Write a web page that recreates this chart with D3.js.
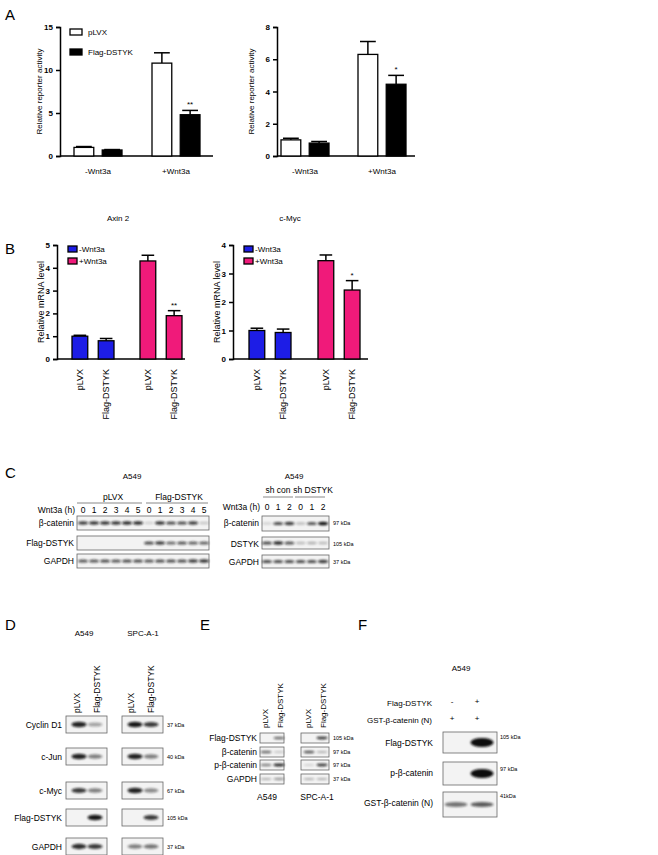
<!DOCTYPE html>
<html><head><meta charset="utf-8">
<script src="https://cdn.jsdelivr.net/npm/d3@7"></script>
<style>body{margin:0;background:#fff}text{font-family:"Liberation Sans",Arial,sans-serif}</style>
</head><body>
<svg id="fig" width="658" height="855"></svg>
<script>
// bar chart data
const groupsA = ["-Wnt3a", "+Wnt3a"];
const seriesA = ["pLVX", "Flag-DSTYK"];
const a1Values = [[1.0, 0.7], [10.8, 4.8]];
const a1Errors = [[1.1, 0.75], [12.0, 5.3]];
const a1Stars = [["", ""], ["", "**"]];
const a2Values = [[1.0, 0.8], [6.3, 4.45]];
const a2Errors = [[1.1, 0.9], [7.1, 5.0]];
const a2Stars = [["", ""], ["", "*"]];
const seriesB = ["-Wnt3a", "+Wnt3a"];
const barLabelsB = ["pLVX", "Flag-DSTYK"];
const axinValues = [[1.0, 0.8], [4.3, 1.9]];
const axinErrors = [[1.04, 0.9], [4.55, 2.12]];
const axinStars = [["", ""], ["", "**"]];
const mycValues = [[1.0, 0.93], [3.45, 2.42]];
const mycErrors = [[1.08, 1.05], [3.65, 2.75]];
const mycStars = [["", ""], ["", "*"]];

// blot band intensities (0..1) per lane
const c1Lanes = ["0","1","2","3","4","5","0","1","2","3","4","5"];
const c1Rows = ["β-catenin", "Flag-DSTYK", "GAPDH"];
const c1Bands = [
  [0.8,0.85,0.85,0.85,0.9,0.9, 0.15,0.85,0.75,0.75,0.8,0.2],
  [0,0,0,0,0,0, 0.75,0.8,0.6,0.7,0.65,0.65],
  [0.7,0.7,0.75,0.7,0.75,0.75, 0.7,0.75,0.75,0.75,0.8,0.85]];
const c2Lanes = ["0","1","2","0","1","2"];
const c2Rows = ["β-catenin", "DSTYK", "GAPDH"];
const c2Kda = ["97 kDa", "105 kDa", "37 kDa"];
const c2Bands = [
  [0.15,0.75,0.8, 0.25,0.7,1.0],
  [0.75,0.9,0.7, 0.25,0.3,0.25],
  [0.75,0.75,0.75,0.75,0.75,0.8]];
const dRows = ["Cyclin D1", "c-Jun", "c-Myc", "Flag-DSTYK", "GAPDH"];
const dKda = ["37 kDa", "40 kDa", "67 kDa", "105 kDa", "37 kDa"];
const dBandsA549 = [[0.9,0.35],[0.9,0.5],[0.8,0.5],[0,0.95],[0.85,0.8]];
const dBandsSPC = [[0.95,0.8],[0.9,0.5],[0.9,0.45],[0,0.8],[0.5,0.55]];
const eRows = ["Flag-DSTYK", "β-catenin", "p-β-catenin", "GAPDH"];
const eKda = ["105 kDa", "97 kDa", "97 kDa", "37 kDa"];
const eBandsA549 = [[0,0.6],[0.6,0.2],[0.5,0.9],[0.3,0.4]];
const eBandsSPC = [[0,0.8],[0.7,0.3],[0.15,0.8],[0.3,0.3]];
const fRows = ["Flag-DSTYK", "p-β-catenin", "GST-β-catenin (N)"];
const fKda = ["105 kDa", "97 kDa", "41kDa"];
const fBands = [[0,1.0],[0,1.0],[0.55,0.65]];
const fConds = [["Flag-DSTYK", "-", "+"], ["GST-β-catenin (N)", "+", "+"]];

const svg = d3.select("#fig");
const defs = svg.append("defs");
defs.append("filter").attr("id","blur").attr("x","-50%").attr("y","-100%").attr("width","200%").attr("height","300%")
  .append("feGaussianBlur").attr("stdDeviation", 0.9);

function txt(x, y, s, size, anchor, weight) {
  return svg.append("text").attr("x", x).attr("y", y).attr("font-size", size || 9)
    .attr("text-anchor", anchor || "start").attr("font-weight", weight || "normal").text(s);
}

// panel letters
[["A",5,20],["B",5,254],["C",5,478],["D",5,630],["E",200,630],["F",358,630]]
  .forEach(d => txt(d[1], d[2], d[0], 15));

function barChart(c) {
  const g = svg.append("g");
  const y = d3.scaleLinear().domain([0, c.max]).range([c.y0, c.y1]);
  const xg = d3.scalePoint().domain(c.groups).range(c.centers);
  const xi = d3.scaleBand().domain(c.series).range([-c.half, c.half]).paddingInner(c.pad);
  g.append("g").attr("transform", `translate(${c.x0},0)`)
    .call(d3.axisLeft(y).ticks(c.ticks).tickSize(4).tickFormat(d3.format("d")))
    .call(a => a.selectAll("text").attr("font-size", 8).attr("font-weight", "bold").attr("font-family", "Liberation Sans"))
    .call(a => a.selectAll("path,line").attr("stroke-width", 1.5));
  g.append("line").attr("x1", c.x0).attr("x2", c.x1).attr("y1", c.y0).attr("y2", c.y0)
    .attr("stroke", "#000").attr("stroke-width", 1.5);
  c.groups.forEach((gr, gi) => c.series.forEach((s, si) => {
    const x = xg(gr) + xi(s), w = xi.bandwidth(), v = c.values[gi][si], e = c.errors[gi][si];
    const col = c.colorBy === "group" ? c.colors[gi] : c.colors[si];
    const cx = x + w / 2;
    g.append("line").attr("x1", cx).attr("x2", cx).attr("y1", y(v)).attr("y2", y(e)).attr("stroke", "#000").attr("stroke-width", 1.5);
    g.append("line").attr("x1", cx - w * 0.4).attr("x2", cx + w * 0.4).attr("y1", y(e)).attr("y2", y(e)).attr("stroke", "#000").attr("stroke-width", 1.5);
    g.append("rect").attr("x", x).attr("y", y(v)).attr("width", w).attr("height", y(0) - y(v))
      .attr("fill", col).attr("stroke", "#000").attr("stroke-width", 1.3);
    if (c.stars[gi][si]) txt(cx, y(e) - 3, c.stars[gi][si], 8, "middle");
    if (c.barLabels) {
      svg.append("text").attr("transform", `translate(${cx + 3},${c.y0 + 10}) rotate(-90)`)
        .attr("font-size", 9).attr("text-anchor", "end").text(c.barLabels[si]);
    }
  }));
  if (c.groupLabels) c.groups.forEach(gr => txt(xg(gr), c.y0 + 18, gr, 8, "middle"));
  svg.append("text").attr("transform", `translate(${c.ylx},${(c.y0 + c.y1) / 2}) rotate(-90)`)
    .attr("font-size", c.ylSize).attr("text-anchor", "middle").text(c.ylabel);
  if (c.legend) c.legend.forEach((l, i) => {
    const ly = c.legY + i * c.legStep;
    g.append("rect").attr("x", c.legX).attr("y", ly).attr("width", c.legW).attr("height", 6)
      .attr("fill", c.colors[i]).attr("stroke", "#000").attr("stroke-width", 1.3);
    txt(c.legX + c.legW + (c.legW > 10 ? 6 : 2), ly + 6, l, 8);
  });
}

barChart({groups: groupsA, series: seriesA, values: a1Values, errors: a1Errors, stars: a1Stars,
  x0: 60, x1: 213, y0: 156, y1: 27, max: 15, ticks: 3, centers: [98, 176], half: 24, pad: 0.3,
  colors: ["#fff", "#000"], colorBy: "series", groupLabels: true,
  ylabel: "Relative reporter activity", ylx: 42, ylSize: 8,
  legend: seriesA, legX: 70, legY: 29, legStep: 20, legW: 12});
barChart({groups: groupsA, series: seriesA, values: a2Values, errors: a2Errors, stars: a2Stars,
  x0: 277, x1: 415, y0: 156, y1: 27, max: 8, ticks: 4, centers: [305, 382], half: 24, pad: 0.3,
  colors: ["#fff", "#000"], colorBy: "series", groupLabels: true,
  ylabel: "Relative reporter activity", ylx: 254, ylSize: 8});

txt(118, 221, "Axin 2", 8, "middle");
txt(290, 221, "c-Myc", 8, "middle");
barChart({groups: seriesB, series: barLabelsB, values: axinValues, errors: axinErrors, stars: axinStars,
  x0: 57, x1: 185, y0: 359, y1: 245, max: 5, ticks: 5, centers: [93, 161], half: 21, pad: 0.4,
  colors: ["#1d1de6", "#f01a7a"], colorBy: "group", barLabels: barLabelsB,
  ylabel: "Relative mRNA level", ylx: 44, ylSize: 9,
  legend: seriesB, legX: 68, legY: 246, legStep: 12, legW: 9});
barChart({groups: seriesB, series: barLabelsB, values: mycValues, errors: mycErrors, stars: mycStars,
  x0: 233, x1: 368, y0: 359, y1: 245, max: 4, ticks: 4, centers: [270, 339], half: 21, pad: 0.4,
  colors: ["#1d1de6", "#f01a7a"], colorBy: "group", barLabels: barLabelsB,
  ylabel: "Relative mRNA level", ylx: 220, ylSize: 9,
  legend: seriesB, legX: 244, legY: 246, legStep: 12, legW: 9});

// blot helper: box with blurred, flat bands
function blot(x, y, w, h, lanesX, intens, bw, bh) {
  svg.append("rect").attr("x", x).attr("y", y).attr("width", w).attr("height", h)
    .attr("fill", "#f3f3f3").attr("stroke", "#666").attr("stroke-width", 0.8);
  intens.forEach((v, i) => {
    if (v <= 0.02) return;
    svg.append("ellipse").attr("cx", lanesX[i]).attr("cy", y + h / 2).attr("rx", bw / 2).attr("ry", bh * (0.6 + 0.4 * v))
      .attr("fill", "#111").attr("opacity", v).attr("filter", "url(#blur)");
  });
}

// C left
const c1x = d3.scalePoint().domain(d3.range(12)).range([83, 204]);
txt(132, 479, "A549", 8, "middle");
txt(113, 500, "pLVX", 8.5, "middle"); txt(179, 500, "Flag-DSTYK", 8.5, "middle");
[[77,142],[146,208]].forEach(d => svg.append("line").attr("x1", d[0]).attr("x2", d[1]).attr("y1", 503).attr("y2", 503).attr("stroke", "#888"));
txt(75, 513, "Wnt3a (h)", 8.5, "end");
c1Lanes.forEach((l, i) => txt(c1x(i), 513, l, 8.5, "middle"));
const c1y = [516, 536, 554];
c1Rows.forEach((r, i) => {
  txt(74, c1y[i] + 10, r, 8.5, "end");
  blot(77, c1y[i], 132, 14, d3.range(12).map(c1x), c1Bands[i], 10, 1.8);
});
// C right
const c2x = d3.scalePoint().domain(d3.range(6)).range([267, 323]);
txt(294, 479, "A549", 8, "middle");
txt(278, 493, "sh con", 8.5, "middle"); txt(313, 493, "sh DSTYK", 8.5, "middle");
[[263,293],[295,325]].forEach(d => svg.append("line").attr("x1", d[0]).attr("x2", d[1]).attr("y1", 497).attr("y2", 497).attr("stroke", "#888"));
txt(260, 510, "Wnt3a (h)", 8.5, "end");
c2Lanes.forEach((l, i) => txt(c2x(i), 510, l, 8.5, "middle"));
const c2y = [516, 537, 555];
c2Rows.forEach((r, i) => {
  txt(259, c2y[i] + 10, r, 8.5, "end");
  blot(262, c2y[i], 67, [15, 12, 13][i], d3.range(6).map(c2x), c2Bands[i], 10, 1.8);
  txt(333, c2y[i] + 9, c2Kda[i], 5.5);
});

// D
txt(84, 636, "A549", 8, "middle"); txt(143, 636, "SPC-A-1", 8, "middle");
const dLanes = [[77, 97], [131, 151]];
dLanes.forEach(p => p.forEach((lx, i) => svg.append("text").attr("transform", `translate(${lx + 3},713) rotate(-90)`)
  .attr("font-size", 8.5).text(["pLVX", "Flag-DSTYK"][i])));
const dy = [716, 748, 782, 809, 838];
dRows.forEach((r, i) => {
  txt(62, dy[i] + 12, r, 8.5, "end");
  blot(66, dy[i], 41, 17, [79, 95], dBandsA549[i], 15, 2.8);
  blot(122, dy[i], 41, 17, [135, 151], dBandsSPC[i], 15, 2.8);
  txt(167, dy[i] + 11, dKda[i], 5.5);
});

// E
[[265, 280], [308, 323]].forEach(p => p.forEach((lx, i) => svg.append("text").attr("transform", `translate(${lx + 3},728) rotate(-90)`)
  .attr("font-size", 8).text(["pLVX", "Flag-DSTYK"][i])));
const ey = [733, 747, 760, 774];
eRows.forEach((r, i) => {
  txt(257, ey[i] + 8, r, 8.5, "end");
  blot(260, ey[i], 24, 10, [266, 279], eBandsA549[i], 11, 1.5);
  blot(301, ey[i], 28, 10, [309, 322], eBandsSPC[i], 11, 1.5);
  txt(333, ey[i] + 7, eKda[i], 5.5);
});
txt(267, 800, "A549", 8.5, "middle"); txt(317, 800, "SPC-A-1", 8.5, "middle");

// F
txt(461, 671, "A549", 8, "middle");
fConds.forEach((c, i) => {
  txt(432, 706 + i * 17, c[0], 8, "end");
  txt(452, 704 + i * 17, c[1], 8, "middle");
  txt(477, 704 + i * 17, c[2], 8, "middle");
});
const fy = [732, 762, 792];
fRows.forEach((r, i) => {
  txt(433, fy[i] + 14, r, 8.5, "end");
  blot(443, fy[i], 54, [21, 23, 25][i], [456, 482], fBands[i], 23, [4.5, 4.5, 3][i]);
  txt(500, fy[i] + [7, 9, 6][i], fKda[i], 5.5);
});
</script>
</body></html>
